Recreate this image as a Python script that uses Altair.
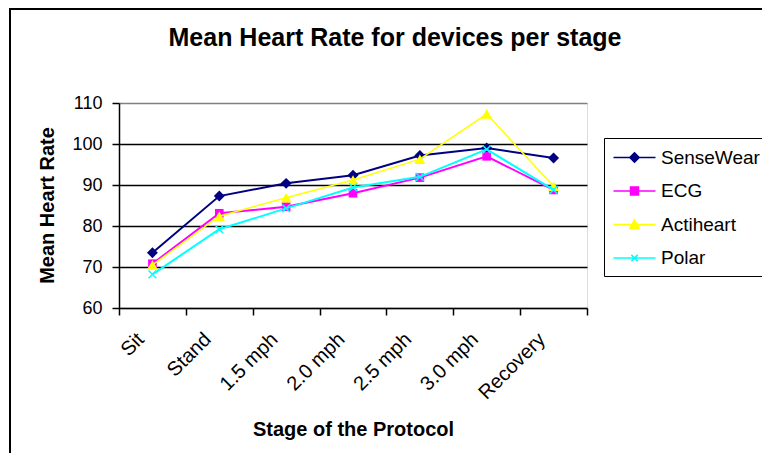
import altair as alt
import pandas as pd

stages = ["Sit", "Stand", "1.5 mph", "2.0 mph", "2.5 mph", "3.0 mph", "Recovery"]
series_names = ["SenseWear", "ECG", "Actiheart", "Polar"]
sensewear = [73.5, 87.3, 90.4, 92.4, 97.2, 99.0, 96.6]
ecg = [70.8, 83.1, 84.7, 88.0, 91.8, 97.0, 88.8]
actiheart = [70.5, 82.4, 86.9, 91.2, 96.3, 107.3, 89.7]
polar = [68.2, 79.2, 84.3, 89.4, 92.0, 98.7, 88.8]
y_ticks = [60, 70, 80, 90, 100, 110]
chart_title = "Mean Heart Rate for devices per stage"

colors = ["#000080", "#FF00FF", "#FFFF00", "#00FFFF"]
marker_shapes = ["diamond", "square", "triangle-up", "M-1,-1L1,1M-1,1L1,-1"]
marker_sizes = [120, 75, 120, 60]
marker_filled = [True, True, True, False]
line_widths = [2, 2, 1.5, 2]
legend_paths = [
    "M-2,0L2,0M0,-0.45L0.45,0L0,0.45L-0.45,0Z",
    "M-2,0L2,0M-0.38,-0.38L0.38,-0.38L0.38,0.38L-0.38,0.38Z",
    "M-2,0L2,0M0,-0.45L0.45,0.4L-0.45,0.4Z",
    "M-2,0L2,0M-0.3,-0.3L0.3,0.3M-0.3,0.3L0.3,-0.3",
]

values = [sensewear, ecg, actiheart, polar]
rows = []
for name, vals in zip(series_names, values):
    for st, v in zip(stages, vals):
        rows.append({"stage": st, "series": name, "value": v})
df = pd.DataFrame(rows)

FONT = "Liberation Sans"

x_enc = alt.X(
    "stage:N",
    sort=stages,
    scale=alt.Scale(type="band", paddingInner=0, paddingOuter=0),
    axis=alt.Axis(
        title="Stage of the Protocol",
        titleFont=FONT, titleFontSize=20, titleFontWeight="bold", titleColor="black",
        titleBaseline="alphabetic", titleY=127,
        labelAngle=315, labelAlign="right", labelBaseline="middle",
        labelFont=FONT, labelFontSize=20, labelColor="black",
        labelPadding=21, labelOffset=-12,
        tickBand="extent", tickSize=7, tickColor="black", tickWidth=1.5,
        domainColor="black", domainWidth=1.5, grid=False,
    ),
)
y_enc = alt.Y(
    "value:Q",
    scale=alt.Scale(domain=[60, 110], nice=False, zero=False),
    axis=alt.Axis(
        title="Mean Heart Rate",
        titleFont=FONT, titleFontSize=20, titleFontWeight="bold", titleColor="black",
        titleAngle=270, titleBaseline="alphabetic", titleX=-66, titleY=102,
        titleAlign="center",
        values=y_ticks, format="d",
        labelFont=FONT, labelFontSize=18, labelColor="black", labelPadding=10,
        tickSize=7, tickColor="black", tickWidth=1.5,
        domainColor="black", domainWidth=1.5,
        grid=True,
        gridColor={"condition": {"test": "datum.value >= 110 || datum.value <= 60", "value": "#808080"}, "value": "black"},
        gridWidth=1.5,
    ),
)

base = alt.Chart(df)
one_row = pd.DataFrame({"a": [0]})

border = alt.Chart(one_row).mark_rect(
    filled=False, stroke="black", strokeWidth=2
).encode(
    x=alt.value(-109), x2=alt.value(700), y=alt.value(-94), y2=alt.value(400)
)

title_text = alt.Chart(one_row).mark_text(
    font=FONT, fontSize=25, fontWeight="bold", color="black",
    align="center", baseline="alphabetic",
).encode(x=alt.value(276), y=alt.value(-57), text=alt.value(chart_title))

layers = [border, title_text]
for i, name in enumerate(series_names):
    sub = base.transform_filter(alt.datum.series == name)
    line = sub.mark_line(color=colors[i], strokeWidth=line_widths[i]).encode(x=x_enc, y=y_enc)
    if marker_filled[i]:
        pt = sub.mark_point(shape=marker_shapes[i], size=marker_sizes[i], filled=True,
                            color=colors[i], opacity=1)
    else:
        pt = sub.mark_point(shape=marker_shapes[i], size=marker_sizes[i], filled=False,
                            color=colors[i], strokeWidth=1.5, opacity=1)
    layers.append(line)
    layers.append(pt.encode(x=x_enc, y=y_enc))

leg = alt.Legend(
    title=None, orient="none", legendX=485, legendY=35, padding=8,
    strokeColor="black", fillColor="white",
    labelFont=FONT, labelFontSize=19, labelColor="black",
    symbolSize=441, symbolStrokeWidth=1.5, symbolOffset=11, labelOffset=15,
    symbolOpacity=1, rowPadding=11.5,
)
legend_layer = base.transform_filter("datum.value < 0").mark_point(
    filled=False, strokeWidth=1.5, size=441, opacity=1, fillOpacity=1
).encode(
    x=x_enc, y=y_enc,
    shape=alt.Shape("series:N", scale=alt.Scale(domain=series_names, range=legend_paths), legend=leg),
    fill=alt.Fill("series:N", scale=alt.Scale(domain=series_names, range=colors), legend=leg),
    stroke=alt.Stroke("series:N", scale=alt.Scale(domain=series_names, range=colors), legend=leg),
)
layers.append(legend_layer)

chart = alt.layer(*layers).properties(
    width=468, height=205,
    autosize=alt.AutoSizeParams(type="none"),
    padding={"left": 111, "top": 95, "right": 175, "bottom": 145},
).configure_view(
    fill="#C0C0C0", stroke="#808080", strokeWidth=1.5
).configure(background="white")

chart.save("out.html", embed_options={"renderer": "svg", "actions": False})
